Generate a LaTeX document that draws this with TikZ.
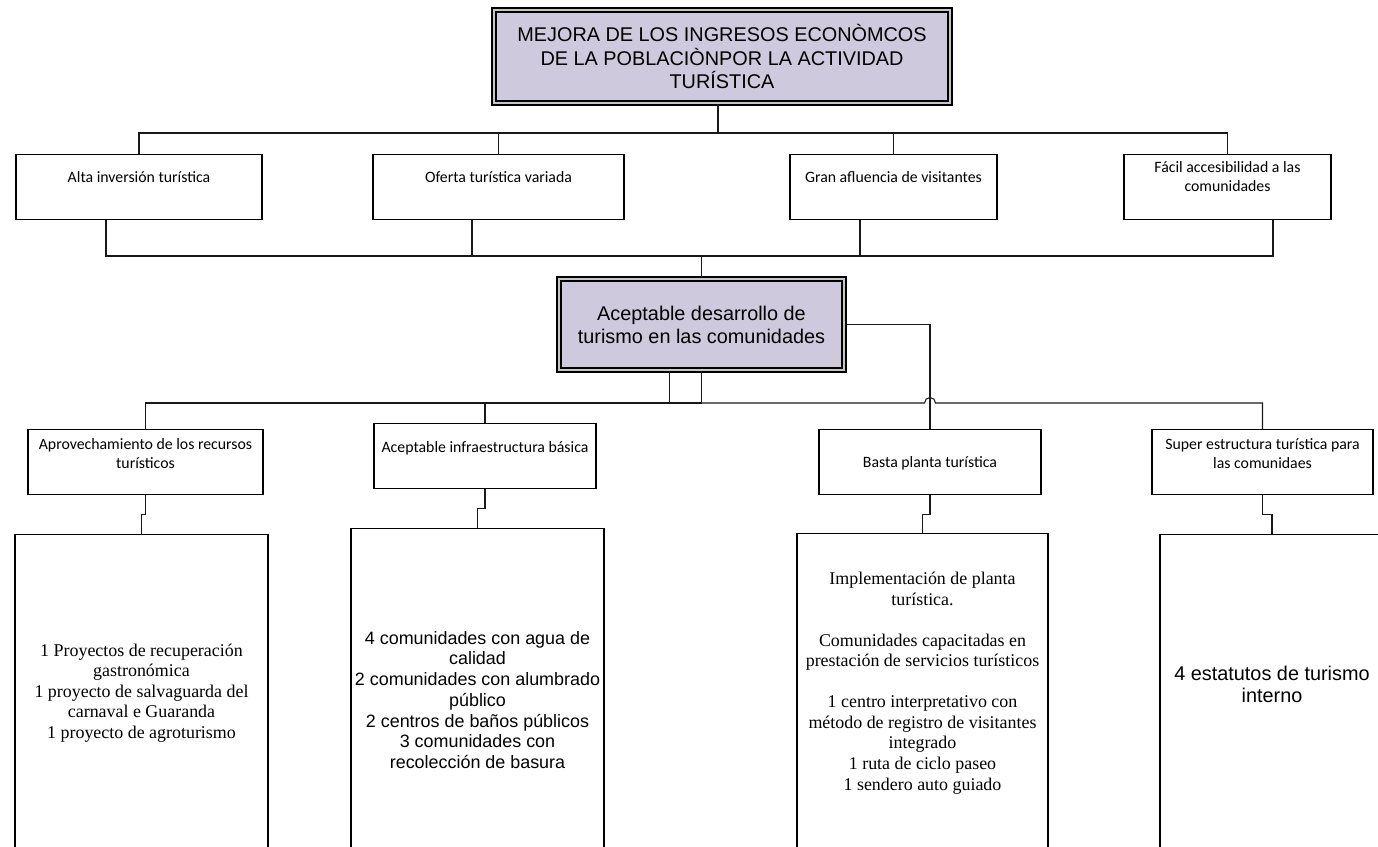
\documentclass[tikz,border=0pt]{standalone}
\usepackage{fontspec}
\setmainfont{Liberation Sans}
\newfontfamily\calib{Carlito}
\newfontfamily\timesr{Liberation Serif}
\usetikzlibrary{positioning}
\definecolor{lav}{RGB}{207,201,221}
\def\pu{0.02cm}

\begin{document}
\begin{tikzpicture}[
    x=0.02cm, y=-0.02cm,
    conn/.style={draw=black!90, line width=0.6pt},
    goal/.style={rectangle, draw=black, line width=1.1pt, double=gray!45, double distance=0.8pt, fill=lav, align=center, inner sep=0pt, font=\fontsize{11.3}{13.1}\selectfont},
    cause/.style={rectangle, draw, line width=0.6pt, anchor=north, minimum height=65*\pu, inner sep=0pt},
    result/.style={rectangle, draw, line width=0.6pt, anchor=north, minimum height=340*\pu, inner sep=0pt},
    txt/.style={anchor=center, align=center, font=\calib\fontsize{9}{10.8}\selectfont},
    serifres/.style={anchor=center, align=center, font=\timesr\fontsize{10.2}{11.7}\selectfont},
    sansres/.style={anchor=center, align=center, font=\fontsize{10.2}{11.8}\selectfont}
]
\useasboundingbox (0,0) rectangle (1378,847);

% Goal and central node
\node (goal) at (722,56.5) [goal, minimum width=456*\pu, minimum height=93*\pu] {MEJORA DE LOS INGRESOS ECONÒMCOS\\ DE LA POBLACIÒNPOR LA ACTIVIDAD\\ TURÍSTICA};
\node (dev) at (701.5,324.5) [goal, minimum width=285*\pu, minimum height=91*\pu] {Aceptable desarrollo de\\ turismo en las comunidades};

% Effects
\node (alta) at (139,154) [cause, minimum width=246*\pu, label={[txt, yshift=-23*\pu]north:Alta inversión turística}] {};
\node (oferta) at (498.5,154) [cause, minimum width=251*\pu, label={[txt, yshift=-23*\pu]north:Oferta turística variada}] {};
\node (gran) at (893.5,154) [cause, minimum width=207*\pu, label={[txt, yshift=-23*\pu]north:Gran afluencia de visitantes}] {};
\node (facil) at (1227.5,154) [cause, minimum width=207*\pu, label={[txt, yshift=-23*\pu]north:{Fácil accesibilidad a las\\ comunidades}}] {};

% Means
\node (aprov) at (145.5,429) [cause, minimum width=235*\pu, label={[txt, yshift=-25*\pu]north:{Aprovechamiento de los recursos\\ turísticos}}] {};
\node (infra) at (485,423) [cause, minimum width=222*\pu, label={[txt, yshift=-25*\pu]north:Aceptable infraestructura básica}] {};
\node (basta) at (930,429) [cause, minimum width=222*\pu, label={[txt, yshift=-34*\pu]north:Basta planta turística}] {};
\node (super) at (1262.5,429) [cause, minimum width=221*\pu, label={[txt, yshift=-25*\pu]north:{Super estructura turística para\\ las comunidaes}}] {};

% Results
\node (res_aprov) at (141.5,534) [result, minimum width=253*\pu, label={[serifres, yshift=-159*\pu]north:{1 Proyectos de recuperación\\ gastronómica\\ 1 proyecto de salvaguarda del\\ carnaval e Guaranda\\ 1 proyecto de agroturismo}}] {};
\node (res_infra) at (477.5,528) [result, minimum width=253*\pu, label={[sansres, yshift=-172*\pu]north:{4 comunidades con agua de\\ calidad\\ 2 comunidades con alumbrado\\ público\\ 2 centros de baños públicos\\ 3 comunidades con\\ recolección de basura}}] {};
\node (res_basta) at (922.5,533) [result, minimum width=251*\pu, label={[serifres, yshift=-150*\pu]north:{Implementación de planta\\ turística.\\[11.7pt] Comunidades capacitadas en\\ prestación de servicios turísticos\\[11.7pt] 1 centro interpretativo con\\ método de registro de visitantes\\ integrado\\ 1 ruta de ciclo paseo\\ 1 sendero auto guiado}}] {};
\node (res_super) at (1272,534) [result, minimum width=224*\pu, label={[sansres, font=\fontsize{11.3}{12.6}\selectfont, yshift=-150*\pu]north:{4 estatutos de turismo\\ interno}}] {};

% Connections
\coordinate (bus1) at (718,133);
\coordinate (bus2) at (701.5,256);
\coordinate (bus3) at (701.5,403);
\coordinate (hop) at (930,403);

\draw [conn] ([xshift=-4*\pu]goal.south) -- (bus1);
\foreach \n in {alta,oferta,gran,facil}
    \draw [conn] (\n.north) |- (bus1);
\foreach \n/\dx in {alta/-33,oferta/-26.5,gran/-33.5,facil/45.5}
    \draw [conn] ([xshift=\dx*\pu]\n.south) |- (bus2);
\draw [conn] (bus2) -- (dev.north);

\draw [conn] (dev.south) -- (bus3);
\draw [conn] ([xshift=-32*\pu]dev.south) |- (bus3);
\foreach \n in {aprov,infra}
    \draw [conn] (\n.north) |- (bus3);
\draw [conn] (super.north) |- ([xshift=5.5*\pu]hop) arc[start angle=0, end angle=180, radius=5.5*\pu] -- (bus3);
\draw [conn] (dev.east) -| (basta.north);

\foreach \n in {aprov,infra,basta,super}
    \draw [conn] (\n.south) -- ++(0,19) -| (res_\n.north);

\end{tikzpicture}
\end{document}
